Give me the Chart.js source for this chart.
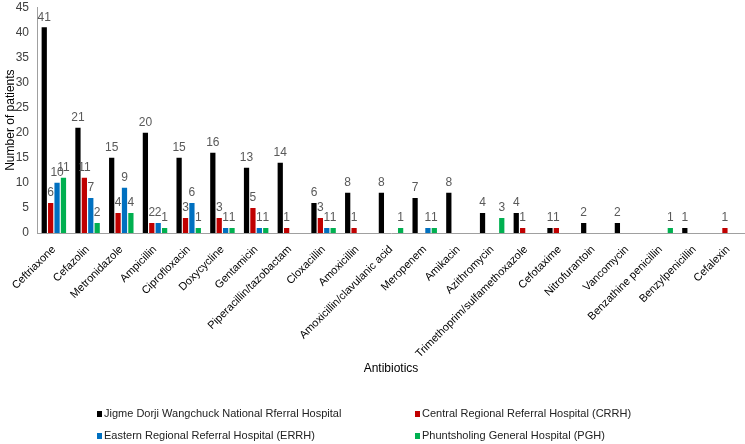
<!DOCTYPE html>
<html>
<head>
<meta charset="utf-8">
<script src="https://cdn.jsdelivr.net/npm/chart.js@4/dist/chart.umd.min.js"></script>
<style>
  html, body { margin: 0; padding: 0; background: #fff; }
  #wrap { width: 745px; height: 444px; }
</style>
</head>
<body>
<div id="wrap"><canvas id="myChart"></canvas></div>
<script>
// categories
const antibiotics = [
    'Ceftriaxone', 'Cefazolin', 'Metronidazole', 'Ampicillin', 'Ciprofloxacin',
    'Doxycycline', 'Gentamicin', 'Piperacillin/tazobactam', 'Cloxacillin', 'Amoxicillin',
    'Amoxicillin/clavulanic acid', 'Meropenem', 'Amikacin', 'Azithromycin',
    'Trimethoprim/sulfamethoxazole', 'Cefotaxime', 'Nitrofurantoin', 'Vancomycin',
    'Benzathine penicillin', 'Benzylpenicillin', 'Cefalexin'
];

// series values (number of patients)
const jdwnrh = [41, 21, 15, 20, 15, 16, 13, 14, 6, 8, 8, 7, 8, 4, 4, 1, 2, 2, 0, 1, 0];
const crrh   = [6, 11, 4, 2, 3, 3, 5, 1, 3, 1, 0, 0, 0, 0, 1, 1, 0, 0, 0, 0, 1];
const errh   = [10, 7, 9, 2, 6, 1, 1, 0, 1, 0, 0, 1, 0, 0, 0, 0, 0, 0, 0, 0, 0];
const pgh    = [11, 2, 4, 1, 1, 1, 1, 0, 1, 0, 1, 1, 0, 3, 0, 0, 0, 0, 1, 0, 0];

const hospitals = [
    'Jigme Dorji Wangchuck National Rferral Hospital',
    'Central Regional Referral Hospital (CRRH)',
    'Eastern Regional Referral Hospital (ERRH)',
    'Phuntsholing General Hospital (PGH)'
];
const colors = ['#000000', '#C00000', '#0070C0', '#00B050'];

// y axis range
const yMax = 45;
const yStep = 5;

const FONT = '"Liberation Sans", Arial, sans-serif';

// draws the numbers above each bar
const valueLabels = {
    id: 'valueLabels',
    afterDatasetsDraw(chart) {
        const ctx = chart.ctx;
        ctx.save();
        ctx.font = '12px ' + FONT;
        ctx.fillStyle = '#595959';
        ctx.textAlign = 'center';
        ctx.textBaseline = 'bottom';
        chart.data.datasets.forEach((ds, i) => {
            chart.getDatasetMeta(i).data.forEach((bar, j) => {
                if (ds.data[j] > 0) ctx.fillText(ds.data[j], bar.x, bar.y - 4);
            });
        });
        ctx.restore();
    }
};

// two column legend under the axis title
const gridLegend = {
    id: 'gridLegend',
    afterDraw(chart) {
        const ctx = chart.ctx;
        const colX = [97, 415];
        const rowY = [414, 436];
        ctx.save();
        ctx.font = '11px ' + FONT;
        ctx.textBaseline = 'middle';
        ctx.textAlign = 'left';
        chart.data.datasets.forEach((ds, i) => {
            const x = colX[i % 2];
            const y = rowY[Math.floor(i / 2)];
            ctx.fillStyle = ds.backgroundColor;
            ctx.fillRect(x, y - 3, 5, 6);
            ctx.fillStyle = '#222';
            ctx.fillText(ds.label, x + 7, y);
        });
        ctx.restore();
    }
};

const series = [jdwnrh, crrh, errh, pgh];

const data = {
    labels: antibiotics,
    datasets: series.map((vals, i) => ({
        label: hospitals[i],
        data: vals,
        backgroundColor: colors[i],
        borderWidth: 0,
        barPercentage: 0.82,
        categoryPercentage: 0.76,
    })),
};

const config = {
    type: 'bar',
    data: data,
    options: {
        responsive: true,
        maintainAspectRatio: false,
        animation: false,
        layout: { padding: { top: -4, right: 0, left: 0, bottom: 64 } },
        plugins: {
            legend: { display: false },
            tooltip: { enabled: false },
        },
        scales: {
            x: {
                grid: { display: false },
                border: { display: true, color: '#a0a0a0', width: 1 },
                ticks: {
                    color: '#000',
                    font: { family: FONT, size: 11 },
                    maxRotation: 45,
                    minRotation: 45,
                    autoSkip: false,
                    padding: 2,
                },
                title: {
                    display: true,
                    text: 'Antibiotics',
                    color: '#000',
                    font: { family: FONT, size: 12 },
                },
                afterFit: (scale) => { scale.height = 147; },
            },
            y: {
                min: 0,
                max: yMax,
                grid: { display: false },
                border: { display: true, color: '#a0a0a0', width: 1 },
                ticks: {
                    stepSize: yStep,
                    color: '#404040',
                    font: { family: FONT, size: 12 },
                    padding: 0,
                },
                title: {
                    display: true,
                    text: 'Number of patients',
                    color: '#000',
                    font: { family: FONT, size: 12 },
                    padding: { top: 3, bottom: 0 },
                },
                afterFit: (scale) => { scale.width = 37; },
            },
        },
    },
    plugins: [valueLabels, gridLegend],
};

new Chart(document.getElementById('myChart'), config);
</script>
</body>
</html>
